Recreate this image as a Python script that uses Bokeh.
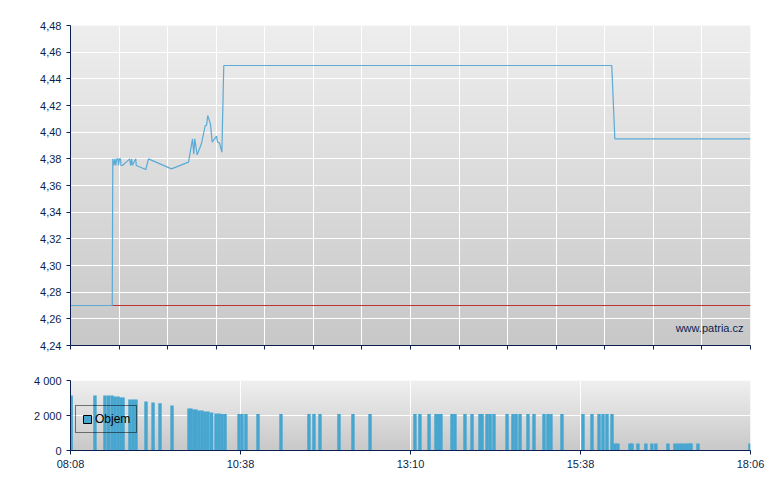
import numpy as np
from bokeh.plotting import figure
from bokeh.layouts import column
from bokeh.models import (FixedTicker, CustomJSTickFormatter, Legend, LegendItem,
                          Label, Range1d)
from bokeh.embed import file_html
from bokeh.resources import INLINE

# ---------------- data ----------------
session_start = "08:08"
session_end = "18:06"
session_minutes = 598  # 08:08 -> 18:06
time_tick_labels = ["08:08", "10:38", "13:10", "15:38", "18:06"]
prev_close = 4.27

# price: minutes after open, price
price_min = [0, 36.7, 37.2, 38.1, 39.0, 39.8, 40.7, 41.8, 42.2, 43.1, 44.0, 44.4, 45.7,
             52.1, 52.8, 53.9, 54.3, 57.4, 57.8, 66.2, 68.6, 88.8, 103.8, 107.3, 108.4,
             109.3, 111.4, 115.2, 118.5, 119.6, 120.7, 123.1, 124.6, 128.4, 129.3, 131.0,
             133.1, 134.8, 476.0, 478.7, 598]
price_val = [4.27, 4.27, 4.38, 4.375, 4.38, 4.375, 4.38, 4.38, 4.375, 4.38, 4.38, 4.375, 4.375,
             4.38, 4.375, 4.38, 4.375, 4.38, 4.375, 4.372, 4.38, 4.3725, 4.3775, 4.395, 4.3835,
             4.395, 4.383, 4.3915, 4.405, 4.405, 4.4125, 4.406, 4.3925, 4.397, 4.3925, 4.392,
             4.385, 4.45, 4.45, 4.395, 4.395]

# volume: minutes after open, volume
vol_min = [0.6, 21.5, 30.3, 33.4, 36.5, 39.1, 41.8, 44.4, 46.2, 52.3, 55.0, 57.6, 66.4, 72.6,
           78.7, 89.3, 104.2, 106.0, 108.6, 110.4, 113.0, 115.7, 118.3, 120.9, 124.0, 128.0,
           130.6, 133.2, 135.9, 148.2, 150.8, 154.3, 164.9, 185.1, 209.7, 214.1, 219.4, 236.1,
           248.4, 263.4, 302.9, 307.3, 315.3, 321.4, 323.6, 325.8, 335.5, 338.1, 346.9, 353.1,
           360.1, 361.9, 366.3, 369.0, 372.4, 383.9, 389.1, 391.8, 395.3, 402.3, 407.6, 416.4,
           419.9, 422.5, 432.2, 450.7, 458.6, 464.8, 468.3, 471.8, 476.2,
           478.8, 481.4, 492.0, 493.8, 499.0, 506.0, 511.3, 514.8, 525.4, 531.6, 534.3, 536.9,
           539.5, 542.2, 544.8, 545.7, 551.8, 597.5]
vol_val = [3150, 3150, 3150, 3150, 3150, 3090, 3090, 3030, 3030, 2920, 2920, 2920, 2800, 2750,
           2700, 2570, 2400, 2400, 2340, 2340, 2290, 2290, 2230, 2230, 2170, 2110,
           2110, 2080, 2080, 2080, 2080, 2080, 2080, 2080, 2080, 2080, 2080, 2080,
           2080, 2080, 2080, 2080, 2080, 2080, 2080, 2080, 2080, 2080, 2080, 2080,
           2080, 2080, 2080, 2080, 2080, 2080, 2080, 2080, 2080, 2080, 2080, 2080,
           2080, 2080, 2080, 2080, 2080, 2080, 2080, 2080, 2080,
           400, 400, 400, 400, 400, 400, 400, 400, 400, 400, 400, 400,
           400, 400, 400, 400, 400, 400]

price_ticks = [4.24, 4.26, 4.28, 4.30, 4.32, 4.34, 4.36, 4.38, 4.40, 4.42, 4.44, 4.46, 4.48]
vol_ticks = [0, 2000, 4000]

# ---------------- style ----------------
NAVY = "#0b1f4f"
FONT = "Liberation Sans"
LINE_BLUE = "#5aaad6"
BAR_BLUE = "#46a6d0"


def gradient(rows, top=238, bottom=200):
    g = np.linspace(bottom, top, rows).astype(np.uint32)
    img = (255 << 24) | (g << 16) | (g << 8) | g
    return img.reshape(rows, 1).astype(np.uint32)


def style_axes(p):
    for ax in (p.xaxis + p.yaxis):
        ax.axis_line_color = NAVY
        ax.major_tick_line_color = NAVY
        ax.minor_tick_line_color = None
        ax.major_tick_in = 0
        ax.major_tick_out = 4
        ax.major_label_text_color = NAVY
        ax.major_label_text_font = FONT
        ax.major_label_text_font_size = "11px"
    for g in (p.xgrid + p.ygrid):
        g.grid_line_color = "white"
        g.grid_line_width = 1
    p.outline_line_color = None
    p.background_fill_color = "white"
    p.border_fill_color = "white"


# ---------------- price chart ----------------
top = figure(output_backend="svg", toolbar_location=None,
             frame_width=680, frame_height=320,
             min_border_left=70, min_border_right=25, min_border_top=25, min_border_bottom=17,
             x_range=Range1d(0, session_minutes), y_range=Range1d(4.24, 4.48))
top.image_rgba(image=[gradient(320)], x=0, y=4.24, dw=session_minutes, dh=0.24, level="image")
top.line([0, session_minutes], [prev_close, prev_close], line_color="#c03333", line_width=1)
top.line(price_min, price_val, line_color=LINE_BLUE, line_width=1.2)
top.xaxis.ticker = FixedTicker(ticks=list(np.linspace(0, session_minutes, 15)))
top.yaxis.ticker = FixedTicker(ticks=price_ticks)
top.yaxis.formatter = CustomJSTickFormatter(code="return tick.toFixed(2).replace('.', ',');")
style_axes(top)
top.xaxis.major_label_text_color = None
top.xaxis.major_label_text_font_size = "0px"
top.xaxis.major_label_standoff = 0
top.add_layout(Label(x=session_minutes, y=4.24, x_offset=-7, y_offset=18,
                     text="www.patria.cz", text_align="right", text_baseline="alphabetic",
                     text_font=FONT, text_font_size="11px", text_color=NAVY))

# ---------------- volume chart ----------------
bot = figure(output_backend="svg", toolbar_location=None,
             frame_width=680, frame_height=70,
             min_border_left=70, min_border_right=25, min_border_top=18, min_border_bottom=30,
             x_range=Range1d(0, session_minutes), y_range=Range1d(0, 4000))
bot.image_rgba(image=[gradient(70, 240, 201)], x=0, y=0, dw=session_minutes, dh=4000, level="image")
bot.vbar(x=vol_min, top=vol_val, width=3.0, bottom=0, fill_color=BAR_BLUE, line_color=None)
# hidden copy of the first bar, only used for the legend swatch (with outline)
swatch = bot.vbar(x=vol_min[:1], top=vol_val[:1], width=3.0, bottom=0,
                  fill_color=BAR_BLUE, line_color="black", line_width=1, visible=False)
tick_pos = list(np.linspace(0, session_minutes, len(time_tick_labels)))
bot.xaxis.ticker = FixedTicker(ticks=tick_pos)
bot.xaxis.major_label_overrides = {float(t): lab for t, lab in zip(tick_pos, time_tick_labels)}
bot.yaxis.ticker = FixedTicker(ticks=vol_ticks)
bot.yaxis.formatter = CustomJSTickFormatter(
    code="return tick == 0 ? '0' : (tick/1000).toFixed(0) + ' 000';")
style_axes(bot)
bot.xaxis.major_label_standoff = 3

legend = Legend(items=[LegendItem(label="Objem", renderers=[swatch])],
                location=(5, 17), orientation="vertical",
                border_line_color="black", border_line_width=1,
                background_fill_alpha=0, padding=6, margin=0, spacing=0,
                glyph_width=10, glyph_height=10, label_height=14, label_standoff=3,
                label_text_font=FONT, label_text_font_size="12px", label_text_color="black")
bot.add_layout(legend)

layout = column(top, bot, spacing=0)
open("out.html", "w").write(file_html(layout, INLINE))
